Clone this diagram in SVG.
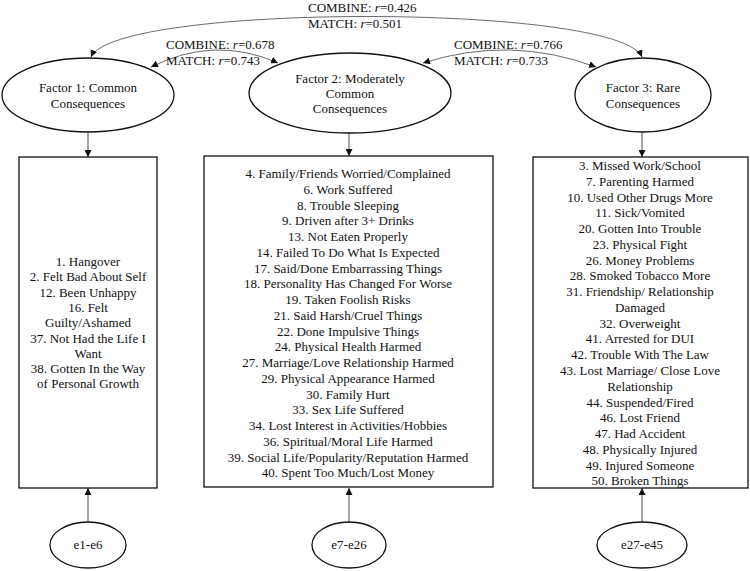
<svg xmlns="http://www.w3.org/2000/svg" width="750" height="571" viewBox="0 0 750 571">
<style>
text{font-family:"Liberation Serif","Times New Roman",serif;font-size:13px;fill:#111}
.c{text-anchor:middle}
.n{fill:#fff;stroke:#111;stroke-width:1.3}
.e{fill:none;stroke:#222;stroke-width:0.8}
.arc{fill:none;stroke:#444;stroke-width:0.8}
</style>
<defs>
<marker id="ah" viewBox="0 0 10 10" refX="10" refY="5" markerWidth="7" markerHeight="7" markerUnits="userSpaceOnUse" orient="auto-start-reverse">
<path d="M0,0 L10,5 L0,10 z" fill="#111"/>
</marker>
</defs>
<rect width="750" height="571" fill="#fff"/>
<g id="connectors">
<path class="arc" d="M91,57 C115,3 618,3 642,57" marker-start="url(#ah)" marker-end="url(#ah)"/>
<path class="arc" d="M151,67 Q215,35 278,63" marker-start="url(#ah)" marker-end="url(#ah)"/>
<path class="arc" d="M423,63 Q510,35 596,67" marker-start="url(#ah)" marker-end="url(#ah)"/>
<line class="e" x1="88" y1="132" x2="88" y2="157" marker-end="url(#ah)"/>
<line class="e" x1="349" y1="133" x2="349" y2="156" marker-end="url(#ah)"/>
<line class="e" x1="642" y1="132" x2="642" y2="157" marker-end="url(#ah)"/>
<line class="e" x1="88" y1="522" x2="88" y2="488" marker-end="url(#ah)"/>
<line class="e" x1="349" y1="522" x2="349" y2="488" marker-end="url(#ah)"/>
<line class="e" x1="642" y1="522" x2="642" y2="488" marker-end="url(#ah)"/>
</g>
<g id="labels">
<text x="308" y="12">COMBINE: <tspan font-style="italic">r</tspan>=0.426</text>
<text x="308" y="28">MATCH: <tspan font-style="italic">r</tspan>=0.501</text>
<text x="166" y="49">COMBINE: <tspan font-style="italic">r</tspan>=0.678</text>
<text x="166" y="65">MATCH: <tspan font-style="italic">r</tspan>=0.743</text>
<text x="454" y="49">COMBINE: <tspan font-style="italic">r</tspan>=0.766</text>
<text x="454" y="65">MATCH: <tspan font-style="italic">r</tspan>=0.733</text>
</g>
<g id="factor1">
<ellipse class="n" cx="88" cy="95" rx="86" ry="37"/>
<text class="c" x="88" y="92">Factor 1: Common</text>
<text class="c" x="88" y="108">Consequences</text>
</g>
<g id="factor2">
<ellipse class="n" cx="350" cy="93" rx="101" ry="40"/>
<text class="c" x="350" y="83">Factor 2: Moderately</text>
<text class="c" x="350" y="98">Common</text>
<text class="c" x="350" y="113">Consequences</text>
</g>
<g id="factor3">
<ellipse class="n" cx="643" cy="95" rx="68" ry="37"/>
<text class="c" x="643" y="92">Factor 3: Rare</text>
<text class="c" x="643" y="108">Consequences</text>
</g>
<g id="box1">
<rect class="n" x="19" y="157" width="138" height="331"/>
<text class="c" x="88" y="266">1. Hangover</text>
<text class="c" x="88" y="281.3">2. Felt Bad About Self</text>
<text class="c" x="88" y="296.6">12. Been Unhappy</text>
<text class="c" x="88" y="311.9">16. Felt</text>
<text class="c" x="88" y="327.2">Guilty/Ashamed</text>
<text class="c" x="88" y="342.5">37. Not Had the Life I</text>
<text class="c" x="88" y="357.8">Want</text>
<text class="c" x="88" y="373.1">38. Gotten In the Way</text>
<text class="c" x="88" y="388.4">of Personal Growth</text>
</g>
<g id="box2">
<rect class="n" x="204" y="156" width="289" height="331"/>
<text class="c" x="348" y="178">4. Family/Friends Worried/Complained</text>
<text class="c" x="348" y="193.75">6. Work Suffered</text>
<text class="c" x="348" y="209.5">8. Trouble Sleeping</text>
<text class="c" x="348" y="225.25">9. Driven after 3+ Drinks</text>
<text class="c" x="348" y="241">13. Not Eaten Properly</text>
<text class="c" x="348" y="256.75">14. Failed To Do What Is Expected</text>
<text class="c" x="348" y="272.5">17. Said/Done Embarrassing Things</text>
<text class="c" x="348" y="288.25">18. Personality Has Changed For Worse</text>
<text class="c" x="348" y="304">19. Taken Foolish Risks</text>
<text class="c" x="348" y="319.75">21. Said Harsh/Cruel Things</text>
<text class="c" x="348" y="335.5">22. Done Impulsive Things</text>
<text class="c" x="348" y="351.25">24. Physical Health Harmed</text>
<text class="c" x="348" y="367">27. Marriage/Love Relationship Harmed</text>
<text class="c" x="348" y="382.75">29. Physical Appearance Harmed</text>
<text class="c" x="348" y="398.5">30. Family Hurt</text>
<text class="c" x="348" y="414.25">33. Sex Life Suffered</text>
<text class="c" x="348" y="430">34. Lost Interest in Activities/Hobbies</text>
<text class="c" x="348" y="445.75">36. Spiritual/Moral Life Harmed</text>
<text class="c" x="348" y="461.5">39. Social Life/Popularity/Reputation Harmed</text>
<text class="c" x="348" y="477.25">40. Spent Too Much/Lost Money</text>
</g>
<g id="box3">
<rect class="n" x="533" y="157" width="215" height="331"/>
<text class="c" x="640" y="170">3. Missed Work/School</text>
<text class="c" x="640" y="185.77">7. Parenting Harmed</text>
<text class="c" x="640" y="201.54">10. Used Other Drugs More</text>
<text class="c" x="640" y="217.31">11. Sick/Vomited</text>
<text class="c" x="640" y="233.08">20. Gotten Into Trouble</text>
<text class="c" x="640" y="248.85">23. Physical Fight</text>
<text class="c" x="640" y="264.62">26. Money Problems</text>
<text class="c" x="640" y="280.39">28. Smoked Tobacco More</text>
<text class="c" x="640" y="296.16">31. Friendship/ Relationship</text>
<text class="c" x="640" y="311.93">Damaged</text>
<text class="c" x="640" y="327.7">32. Overweight</text>
<text class="c" x="640" y="343.47">41. Arrested for DUI</text>
<text class="c" x="640" y="359.24">42. Trouble With The Law</text>
<text class="c" x="640" y="375.01">43. Lost Marriage/ Close Love</text>
<text class="c" x="640" y="390.78">Relationship</text>
<text class="c" x="640" y="406.55">44. Suspended/Fired</text>
<text class="c" x="640" y="422.32">46. Lost Friend</text>
<text class="c" x="640" y="438.09">47. Had Accident</text>
<text class="c" x="640" y="453.86">48. Physically Injured</text>
<text class="c" x="640" y="469.63">49. Injured Someone</text>
<text class="c" x="640" y="485.4">50. Broken Things</text>
</g>
<g id="err1">
<ellipse class="n" cx="88" cy="545" rx="38" ry="23"/>
<text class="c" x="88" y="549">e1-e6</text>
</g>
<g id="err2">
<ellipse class="n" cx="349" cy="545" rx="37" ry="23"/>
<text class="c" x="349" y="549">e7-e26</text>
</g>
<g id="err3">
<ellipse class="n" cx="642" cy="545" rx="45" ry="23"/>
<text class="c" x="642" y="549">e27-e45</text>
</g>
</svg>
